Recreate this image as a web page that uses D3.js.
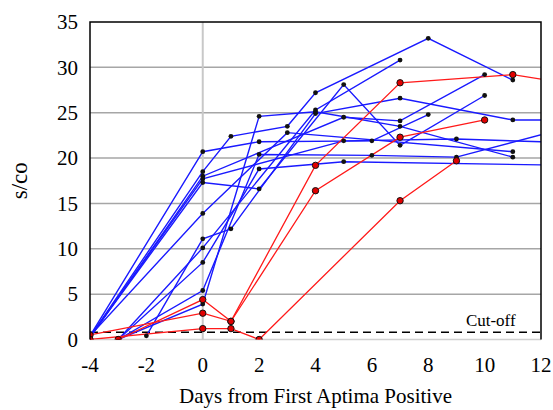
<!DOCTYPE html>
<html>
<head>
<meta charset="utf-8">
<script src="https://cdn.jsdelivr.net/npm/d3@7"></script>
<style>
  body { margin: 0; background: #fff; }
</style>
</head>
<body>
<div id="chart"></div>
<script>
// days / s-co readings per patient
const blueSeries = [
  [[-4, 0.4], [0, 20.7], [2, 21.8], [6, 21.9], [8, 24.8]],
  [[-4, 0.3], [0, 18.5], [1, 22.4], [3, 23.5], [4, 27.2], [8, 33.2], [11, 28.6]],
  [[-4, 0.3], [0, 17.3], [2, 16.6], [5, 28.1], [7, 21.4], [10, 26.9]],
  [[-4, 0.2], [0, 18.0], [5, 24.5], [7, 24.1], [10, 29.2]],
  [[-4, 0.3], [0, 17.7], [5, 21.9], [9, 22.1], [13, 21.7]],
  [[-4, 0.4], [0, 13.9], [3, 22.8], [11, 20.7]],
  [[-2, 0.4], [0, 11.1], [1, 12.2], [4, 24.9], [7, 26.6], [11, 24.2], [13, 24.2]],
  [[-3, 0.0], [0, 10.1], [4, 25.3], [7, 30.8]],
  [[-3, 0.0], [0, 8.5], [2, 18.8], [5, 19.6], [13, 19.2]],
  [[-3, 0.0], [0, 5.4], [2, 20.4], [6, 20.3], [9, 20.1], [13, 23.4]],
  [[-3, 0.0], [0, 3.9], [2, 24.6], [4, 25.1], [7, 23.5], [11, 20.1]]
];
const redSeries = [
  [[-3, 0.0], [0, 4.4], [1, 2.0], [4, 19.2], [7, 28.3], [11, 29.2], [13, 28.2]],
  [[-4, 0.5], [0, 2.9], [1, 2.0], [4, 16.4], [7, 22.3], [10, 24.2]],
  [[-4, 0.0], [0, 1.2], [1, 1.2], [2, 0.0], [7, 15.3], [9, 19.7]]
];
const cutoff = 0.8;
const xTicks = [-4, -2, 0, 2, 4, 6, 8, 10, 12];
const yTicks = [0, 5, 10, 15, 20, 25, 30, 35];

const W = 553, H = 410;
const m = {l: 90, r: 12, t: 22, b: 70.5};
const w = W - m.l - m.r, h = H - m.t - m.b;
const serif = "'Liberation Serif', 'Times New Roman', 'DejaVu Serif', serif";

const svg = d3.select("#chart").append("svg").attr("width", W).attr("height", H)
  .attr("font-family", serif);
svg.append("defs").append("clipPath").attr("id", "plotclip")
  .append("rect").attr("width", w).attr("height", h);

const x = d3.scaleLinear().domain([-4, 12]).range([0, w]);
const y = d3.scaleLinear().domain([0, 35]).range([h, 0]);

const g = svg.append("g").attr("transform", "translate(" + m.l + "," + m.t + ")");

// grid
g.append("g").selectAll("line").data(yTicks.filter(d => d > 0 && d < 35)).join("line")
  .attr("x1", 0).attr("x2", w).attr("y1", d => y(d)).attr("y2", d => y(d))
  .attr("stroke", "#a6a6a6").attr("stroke-width", 1.5);
g.append("line").attr("x1", 0).attr("x2", w).attr("y1", y(0)).attr("y2", y(0))
  .attr("stroke", "#d0d0d0").attr("stroke-width", 1.5);
g.append("line").attr("x1", x(0)).attr("x2", x(0)).attr("y1", 0).attr("y2", h)
  .attr("stroke", "#c8c8c8").attr("stroke-width", 2);

// cut-off
g.append("line").attr("x1", 0).attr("x2", w).attr("y1", y(cutoff)).attr("y2", y(cutoff))
  .attr("stroke", "#000").attr("stroke-width", 1.3).attr("stroke-dasharray", "8,5");
g.append("text").attr("x", x(11.1)).attr("y", y(cutoff) - 6).attr("text-anchor", "end")
  .attr("font-family", serif).style("font-size", "17px").text("Cut-off");

const line = d3.line().x(d => x(d[0])).y(d => y(d[1]));
const plot = g.append("g").attr("clip-path", "url(#plotclip)");

plot.selectAll("path.blue").data(blueSeries).join("path").attr("class", "blue")
  .attr("d", line).attr("fill", "none").attr("stroke", "#1a1aff").attr("stroke-width", 1.4);
plot.selectAll("path.red").data(redSeries).join("path").attr("class", "red")
  .attr("d", line).attr("fill", "none").attr("stroke", "#ff1a1a").attr("stroke-width", 1.3);

blueSeries.forEach(s => {
  plot.append("g").selectAll("circle").data(s.filter(d => d[0] <= 12)).join("circle")
    .attr("cx", d => x(d[0])).attr("cy", d => y(d[1])).attr("r", 2.4).attr("fill", "#111");
});
redSeries.forEach(s => {
  plot.append("g").selectAll("circle").data(s.filter(d => d[0] <= 12)).join("circle")
    .attr("cx", d => x(d[0])).attr("cy", d => y(d[1])).attr("r", 3.2)
    .attr("fill", "#e00000").attr("stroke", "#111").attr("stroke-width", 1);
});

// frame
g.append("path").attr("d", "M0," + h + "V0H" + w + "V" + h)
  .attr("fill", "none").attr("stroke", "#000").attr("stroke-width", 1.5);

// axes labels
g.append("g").selectAll("text").data(yTicks).join("text")
  .attr("x", -12).attr("y", d => y(d)).attr("dy", "0.35em").attr("text-anchor", "end")
  .attr("font-family", serif).style("font-size", "21px").text(d => d);
g.append("g").selectAll("text").data(xTicks).join("text")
  .attr("x", d => x(d)).attr("y", h + 32).attr("text-anchor", "middle")
  .attr("font-family", serif).style("font-size", "21px").text(d => d);

svg.append("text").attr("transform", "translate(27," + (m.t + h / 2) + ") rotate(-90)")
  .attr("text-anchor", "middle").attr("font-family", serif).style("font-size", "23px").text("s/co");
svg.append("text").attr("x", m.l + w / 2).attr("y", 403).attr("text-anchor", "middle")
  .attr("font-family", serif).style("font-size", "21px").text("Days from First Aptima Positive");
</script>
</body>
</html>
